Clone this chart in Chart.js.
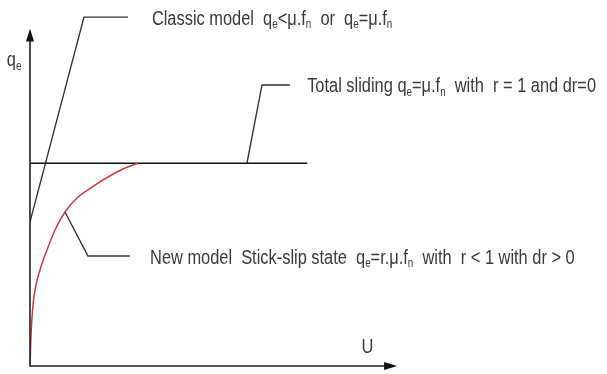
<!DOCTYPE html>
<html><head><meta charset="utf-8">
<script src="https://cdn.jsdelivr.net/npm/chart.js@4/dist/chart.umd.min.js"></script>
<style>body{margin:0;background:#fff}</style>
</head><body>
<canvas id="c" width="607" height="374"></canvas>
<script>
// displacement u / stress qe (arbitrary units)
const slipU = [0, 0.27, 0.82, 1.63, 2.72, 4.63, 6.81, 9.53, 12.8, 16.89, 21.25, 25.33, 29.42];
const slipQ = [0, 9.19, 18.08, 24.0, 28.45, 34.37, 40.3, 45.64, 49.79, 53.05, 56.02, 58.39, 60.1];
const slidingU = [0, 75.5];
const slidingQ = [60.1, 60.1];
const classicU = [0, 14.7, 26.7];
const classicQ = [42.7, 103.4, 103.4];
const totalLeaderU = [59.1, 63.2, 70.8];
const totalLeaderQ = [60.1, 83.3, 83.3];
const newLeaderU = [9.53, 15.8, 27.2];
const newLeaderQ = [45.64, 32.6, 32.6];
const axisMax = [100, 100];

// text pieces: [string, subscript?]
const classicText = [["Classic model  q", 0], ["e", 1], ["<\u03bc.f", 0], ["n", 1], ["  or  q", 0], ["e", 1], ["=\u03bc.f", 0], ["n", 1]];
const totalText = [["Total sliding q", 0], ["e", 1], ["=\u03bc.f", 0], ["n", 1], ["  with  r = 1 and dr=0", 0]];
const newText = [["New model  Stick-slip state  q", 0], ["e", 1], ["=r.\u03bc.f", 0], ["n", 1], ["  with  r < 1 with dr > 0", 0]];

const pts = (xs, ys) => xs.map((x, i) => ({x: x, y: ys[i]}));

const labels = [
    {pieces: classicText, u: 33.2, q: 103.4},
    {pieces: totalText, u: 75.5, q: 83.3},
    {pieces: newText, u: 32.7, q: 32.6},
    {pieces: [["U", 0]], u: 90.3, q: 6.2},
    {pieces: [["q", 0], ["e", 1]], u: -6.3, q: 91},
];

function drawRich(ctx, pieces, x, y) {
    ctx.save();
    ctx.translate(x, y + 2);
    ctx.scale(0.82, 1);
    let cx = 0;
    pieces.forEach(p => {
        ctx.font = p[1] ? '12px "Liberation Sans Narrow", "Liberation Sans", sans-serif' : '20px "Liberation Sans Narrow", "Liberation Sans", sans-serif';
        ctx.fillText(p[0], cx, p[1] ? 6 : 0);
        cx += ctx.measureText(p[0]).width;
    });
    ctx.restore();
}

const sketch = {
    id: 'sketch',
    afterDatasetsDraw(chart) {
        const ctx = chart.ctx;
        const xs = chart.scales.x, ys = chart.scales.y;
        const x0 = xs.getPixelForValue(0), y0 = ys.getPixelForValue(0);
        const xe = xs.getPixelForValue(axisMax[0]), ye = ys.getPixelForValue(axisMax[1]);
        ctx.save();
        ctx.strokeStyle = '#222';
        ctx.fillStyle = '#111';
        ctx.lineWidth = 1.6;
        ctx.beginPath();
        ctx.moveTo(x0, ye + 8); ctx.lineTo(x0, y0); ctx.lineTo(xe - 8, y0);
        ctx.stroke();
        ctx.beginPath();
        ctx.moveTo(x0, ye); ctx.lineTo(x0 - 4, ye + 13); ctx.lineTo(x0 + 4, ye + 13); ctx.closePath();
        ctx.fill();
        ctx.beginPath();
        ctx.moveTo(xe, y0); ctx.lineTo(xe - 13, y0 - 4); ctx.lineTo(xe - 13, y0 + 4); ctx.closePath();
        ctx.fill();
        ctx.fillStyle = '#3a3a3a';
        ctx.textBaseline = 'middle';
        labels.forEach(l => drawRich(ctx, l.pieces, xs.getPixelForValue(l.u), ys.getPixelForValue(l.q)));
        ctx.restore();
    }
};

const line = (data, color, width) => ({
    data: data, borderColor: color, borderWidth: width, pointRadius: 0, fill: false, tension: 0
});

const slip = line(pts(slipU, slipQ), '#cc3b3b', 1.5);
slip.cubicInterpolationMode = 'monotone';

new Chart(document.getElementById('c'), {
    type: 'line',
    data: {
        datasets: [
            slip,
            line(pts(slidingU, slidingQ), '#111', 1.6),
            line(pts(classicU, classicQ), '#333', 1.4),
            line(pts(totalLeaderU, totalLeaderQ), '#333', 1.4),
            line(pts(newLeaderU, newLeaderQ), '#333', 1.4),
        ]
    },
    options: {
        responsive: false,
        animation: false,
        layout: {padding: {left: 30, right: 8, top: 5, bottom: 8}},
        plugins: {legend: {display: false}, tooltip: {enabled: false}},
        scales: {
            x: {type: 'linear', min: 0, max: 155, display: false},
            y: {type: 'linear', min: 0, max: 107, display: false}
        }
    },
    plugins: [sketch]
});
</script>
</body></html>
